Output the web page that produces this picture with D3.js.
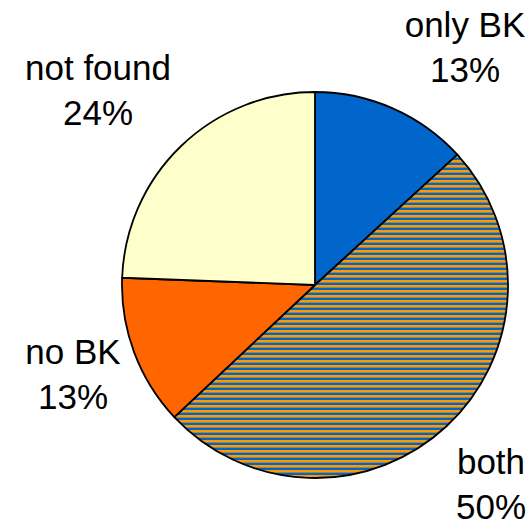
<!DOCTYPE html>
<html>
<head>
<meta charset="utf-8">
<script src="https://cdn.jsdelivr.net/npm/d3@7"></script>
<style>
  html, body { margin: 0; padding: 0; background: #fff; }
  svg { display: block; }
</style>
</head>
<body>
<script>
const categories = ["only BK", "both", "no BK", "not found"];
const values = [13.2, 49.8, 12.6, 24.4];
const colors = ["#0066CC", "url(#stripes)", "#FF6600", "#FFFFCC"];

const W = 531, H = 527;
const cx = 315, cy = 285, R = 193;

const svg = d3.select("body").append("svg").attr("width", W).attr("height", H);

const defs = svg.append("defs");
const pat = defs.append("pattern").attr("id", "stripes")
  .attr("patternUnits", "userSpaceOnUse").attr("width", 10).attr("height", 5);
pat.append("rect").attr("width", 10).attr("height", 5).attr("fill", "#0066CC");
pat.append("rect").attr("width", 10).attr("height", 2.6).attr("fill", "#FF9900");

const data = categories.map((c, i) => ({ cat: c, value: values[i], color: colors[i] }));
const pie = d3.pie().value(d => d.value).sort(null);
const arc = d3.arc().innerRadius(0).outerRadius(R);

const g = svg.append("g").attr("transform", `translate(${cx},${cy})`);
g.selectAll("path").data(pie(data)).join("path")
  .attr("d", arc)
  .attr("fill", d => d.data.color)
  .attr("stroke", "#000")
  .attr("stroke-width", 1.8)
  .attr("stroke-linejoin", "round");

const fmt = v => d3.format(".0f")(v) + "%";
const labelPos = {
  "only BK": [465, 37],
  "both": [491, 474],
  "no BK": [73, 364],
  "not found": [98, 80]
};
const lineGap = 45;
data.forEach(d => {
  const [x, y] = labelPos[d.cat];
  const t = svg.append("text")
    .attr("x", x).attr("y", y)
    .attr("text-anchor", "middle")
    .attr("font-family", "'Liberation Sans', Arial, sans-serif")
    .attr("font-size", 35)
    .attr("fill", "#000");
  t.append("tspan").attr("x", x).attr("y", y).text(d.cat);
  t.append("tspan").attr("x", x).attr("y", y + lineGap).text(fmt(d.value));
});
</script>
</body>
</html>
